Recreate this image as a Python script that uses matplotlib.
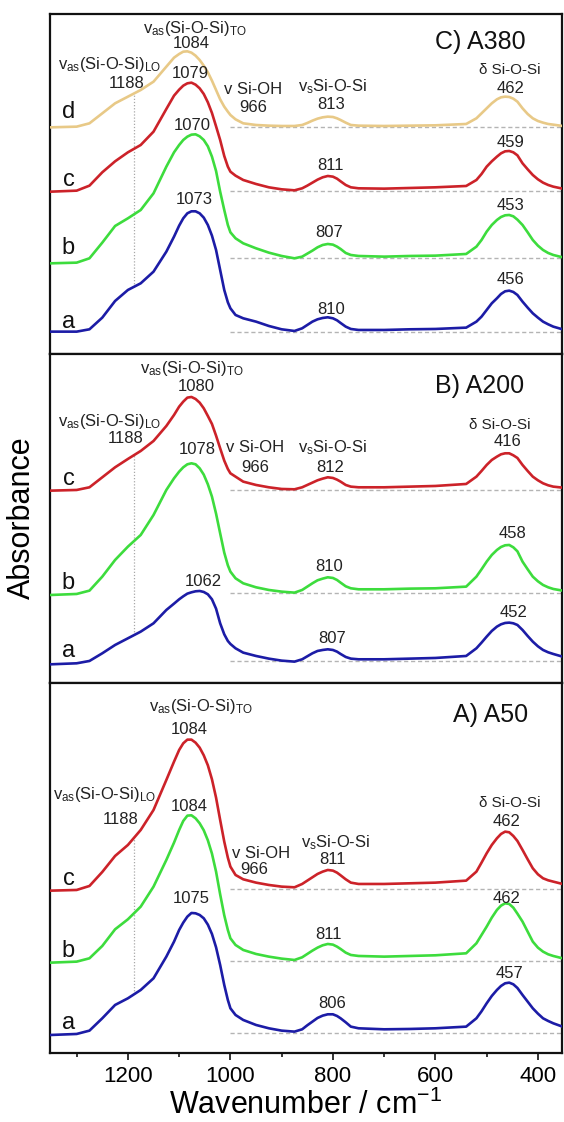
import numpy as np
import matplotlib
matplotlib.use('Agg')
import matplotlib.pyplot as plt
from matplotlib.ticker import MultipleLocator

plt.rcParams['font.family'] = ['Liberation Sans', 'DejaVu Sans']
plt.rcParams['mathtext.default'] = 'regular'

# ---------------- data (absorbance, arbitrary units, relative to each baseline) -------------
wavenumber = [1350, 1300, 1275, 1250, 1225, 1200, 1175, 1150, 1125, 1110,
              1100, 1092, 1084, 1076, 1068, 1060, 1052, 1044, 1036, 1028,
              1020, 1012, 1005, 1000, 990, 975, 950, 925, 900, 875,
              860, 850, 840, 830, 820, 810, 800, 792, 785, 775,
              765, 750, 700, 650, 600, 540, 520, 510, 500, 490,
              480, 472, 464, 456, 448, 440, 430, 420, 410, 400,
              390, 380, 370, 352]

# Panel C) A380
a380_a = [0, 0, 7, 42, 92, 125, 145, 180, 240, 285,
          318, 340, 355, 361, 361, 355, 342, 320, 288, 245,
          185, 125, 88, 70, 50, 40, 30, 17, 7, 2,
          10, 20, 30, 37, 41, 43, 40, 34, 26, 15,
          8, 5, 5, 7, 8, 12, 30, 45, 65, 85,
          100, 113, 121, 123, 119, 110, 90, 72, 55, 42,
          30, 22, 15, 7]
a380_b = [-15, -13, 0, 47, 97, 120, 145, 195, 275, 318,
          340, 355, 365, 371, 372, 366, 355, 336, 305, 262,
          200, 145, 100, 78, 60, 45, 30, 17, 7, 0,
          5, 14, 23, 33, 40, 43, 41, 35, 28, 16,
          10, 7, 5, 7, 8, 13, 35, 55, 80, 100,
          115, 124, 129, 130, 126, 116, 100, 78, 55, 38,
          25, 16, 10, 3]
a380_c = [-3, 0, 15, 55, 88, 115, 137, 177, 245, 285,
          303, 315, 322, 324, 318, 307, 290, 265, 233, 193,
          152, 104, 72, 57, 45, 32, 20, 10, 4, 1,
          7, 15, 24, 33, 40, 44, 42, 36, 28, 17,
          10, 7, 6, 8, 10, 14, 32, 50, 72, 88,
          102, 112, 118, 119, 115, 106, 82, 64, 47, 34,
          24, 17, 12, 6]
a380_d = [-2, 0, 10, 40, 70, 90, 110, 135, 180, 207,
          218, 225, 226, 222, 213, 200, 183, 163, 138, 110,
          82, 60, 45, 35, 22, 10, 5, 3, 2, 2,
          5, 11, 18, 24, 28, 30, 29, 25, 20, 12,
          5, 3, 2, 3, 4, 8, 25, 40, 55, 70,
          82, 88, 90, 89, 84, 75, 55, 38, 25, 17,
          12, 8, 6, 2]
a380_offsets = [68, 288, 491, 683]

# Panel B) A200
a200_a = [-10, -7, 0, 23, 48, 68, 88, 113, 153, 172,
          185, 194, 202, 206, 209, 210, 207, 200, 185, 157,
          113, 80, 60, 51, 38, 25, 15, 7, 1, -2,
          5, 14, 23, 30, 33, 35, 33, 28, 21, 12,
          7, 5, 5, 7, 9, 15, 38, 55, 73, 90,
          103, 110, 114, 115, 113, 108, 93, 75, 58, 44,
          33, 26, 21, 13]
a200_b = [-7, -4, 6, 48, 98, 138, 173, 233, 308, 343,
          363, 376, 385, 388, 385, 373, 354, 325, 288, 237,
          178, 120, 82, 63, 43, 28, 16, 8, 3, 0,
          8, 18, 28, 37, 42, 46, 44, 38, 30, 19,
          13, 10, 10, 12, 13, 18, 48, 70, 93, 113,
          128, 137, 142, 143, 136, 124, 93, 70, 48, 34,
          23, 16, 11, 6]
a200_c = [-2, 0, 8, 38, 68, 93, 117, 147, 192, 225,
          250, 265, 277, 279, 273, 262, 245, 222, 198, 163,
          125, 88, 63, 50, 40, 25, 15, 8, 3, 2,
          8, 15, 22, 29, 34, 38, 36, 31, 25, 15,
          10, 8, 8, 10, 12, 18, 40, 57, 75, 90,
          100, 107, 110, 110, 104, 96, 75, 57, 40, 29,
          20, 14, 10, 7]
a200_offsets = [67, 272, 580]

# Panel A) A50
a50_a = [-5, -2, 8, 45, 85, 105, 130, 165, 230, 275,
         310, 332, 350, 361, 360, 355, 345, 326, 298, 258,
         205, 145, 100, 75, 55, 40, 25, 15, 8, 5,
         12, 24, 35, 46, 53, 57, 57, 52, 45, 33,
         20, 15, 12, 13, 15, 20, 45, 66, 90, 112,
         130, 142, 150, 152, 147, 136, 115, 95, 75, 59,
         45, 37, 30, 20]
a50_b = [-5, -2, 8, 45, 95, 125, 163, 223, 303, 355,
         393, 420, 436, 437, 428, 413, 392, 362, 322, 268,
         200, 137, 93, 68, 48, 33, 21, 13, 7, 3,
         11, 21, 31, 40, 47, 51, 49, 43, 36, 25,
         18, 15, 13, 15, 17, 23, 53, 78, 103, 130,
         153, 166, 173, 171, 160, 142, 118, 88, 58, 40,
         28, 20, 15, 8]
a50_c = [-4, -2, 10, 52, 100, 133, 178, 238, 328, 383,
         418, 438, 449, 449, 440, 425, 402, 372, 330, 275,
         208, 143, 95, 68, 43, 30, 20, 13, 8, 6,
         16, 26, 36, 46, 53, 58, 56, 50, 42, 30,
         20, 16, 16, 18, 20, 26, 53, 80, 108, 133,
         153, 166, 173, 171, 160, 145, 118, 90, 63, 45,
         33, 27, 23, 16]
a50_offsets = [60, 277, 492]

sample_letters = ['a', 'b', 'c', 'd']
panel_titles = ['C) A380', 'B) A200', 'A) A50']
lo_position = 1188

TO = r'v$_{as}$(Si-O-Si)$_{TO}$'
LO = r'v$_{as}$(Si-O-Si)$_{LO}$'
OH = 'v Si-OH'
VS = r'v$_{s}$Si-O-Si'
DE = 'δ Si-O-Si'

a380_notes = [(TO, 1070, 978), ('1084', 1077, 933), (LO, 1235, 868), ('1188', 1203, 813),
              ('1079', 1079, 841), (OH, 955, 795), ('966', 955, 741), (VS, 800, 803),
              ('813', 804, 748), (DE, 454, 853), ('462', 454, 798), ('1070', 1074, 685),
              ('811', 804, 566), ('459', 454, 635), ('1073', 1070, 463), ('807', 808, 366),
              ('453', 454, 445), ('810', 804, 133), ('456', 454, 223)]
a200_notes = [(TO, 1076, 945), ('1080', 1067, 890), (LO, 1235, 785), ('1188', 1204, 735),
              ('1078', 1065, 700), (OH, 951, 708), ('966', 951, 648), (VS, 800, 708),
              ('812', 806, 648), (DE, 475, 775), ('416', 460, 725), ('458', 450, 448),
              ('810', 808, 350), ('1062', 1053, 305), ('452', 447, 212), ('807', 801, 135)]
a50_notes = [(TO, 1058, 1040), ('1084', 1081, 970), (LO, 1245, 775), ('1188', 1214, 700),
             ('1084', 1081, 740), (OH, 941, 598), ('966', 953, 552), (VS, 794, 632),
             ('811', 801, 580), (DE, 455, 752), ('462', 461, 695), ('462', 461, 465),
             ('811', 808, 355), ('1075', 1077, 465), ('457', 455, 240), ('806', 801, 150)]

colors = ['#1c1ca6', '#3ddc3d', '#cc2229', '#e8c987']

# ---------------- figure -------------
W_PX, H_PX = 564, 1122
fig = plt.figure(figsize=(W_PX / 100, H_PX / 100), dpi=100)
left = 50 / W_PX
width = (562 - 50) / W_PX


def frac(top, bottom):
    return [left, (H_PX - bottom) / H_PX, width, (bottom - top) / H_PX]


axC = fig.add_axes(frac(14, 354.3))
axB = fig.add_axes(frac(354.3, 683.3))
axA = fig.add_axes(frac(683.3, 1053.3))

panels = [
    (axC, [a380_a, a380_b, a380_c, a380_d], a380_offsets, a380_notes, panel_titles[0], 1021, (513, 938)),
    (axB, [a200_a, a200_b, a200_c], a200_offsets, a200_notes, panel_titles[1], 987, (513, 892)),
    (axA, [a50_a, a50_b, a50_c], a50_offsets, a50_notes, panel_titles[2], 1110, (492, 1015)),
]

letter_dy = [30, 30, 32, 45]
wn = np.asarray(wavenumber, float)

for ax, spectra, offsets, notes, title, ytop, tpos in panels:
    ax.set_xlim(1352, 353)
    ax.set_ylim(0, ytop)
    lo_vals = []
    for i, (ab, off) in enumerate(zip(spectra, offsets)):
        y = np.asarray(ab, float) + off
        ax.plot([1000, 353], [off, off], color='#b4b4b4', lw=1.0, ls=(0, (3, 2)), zorder=1)
        ax.plot(wn, y, color=colors[i], lw=1.9, zorder=3, solid_joinstyle='round')
        lo_vals.append(np.interp(lo_position, wn[::-1], y[::-1]))
        ax.text(1316, off + letter_dy[i], sample_letters[i], fontsize=17,
                ha='center', va='center', color='#111111')
    ax.plot([lo_position, lo_position], [min(lo_vals), max(lo_vals)], color='#a8a8a8',
            lw=0.9, ls=(0, (1, 1.5)), zorder=1)
    for txt, x, yy in notes:
        fs = 11 if txt == DE else 12
        ax.text(x, yy, txt, fontsize=fs, ha='center', va='center', color='#222222', zorder=4)
    ax.text(tpos[0], tpos[1], title, fontsize=18, ha='center', va='center', color='#111111')

    ax.xaxis.set_major_locator(MultipleLocator(200))
    ax.xaxis.set_minor_locator(MultipleLocator(100))
    ax.tick_params(axis='x', which='major', direction='out', length=5, width=1.3,
                   labelsize=16, pad=4, top=False, color='#222222')
    ax.tick_params(axis='x', which='minor', direction='out', length=3, width=1.1, top=False)
    ax.set_yticks([])
    for s in ax.spines.values():
        s.set_linewidth(1.6)
        s.set_color('#111111')

axC.tick_params(axis='x', labelbottom=False)
axB.tick_params(axis='x', labelbottom=False)
axA.set_xlabel('Wavenumber / cm$^{-1}$', fontsize=22, labelpad=2)
fig.text(22 / W_PX, 1 - 518 / H_PX, 'Absorbance', rotation=90, fontsize=22,
         ha='center', va='center')

fig.savefig('out.png', dpi=100)
